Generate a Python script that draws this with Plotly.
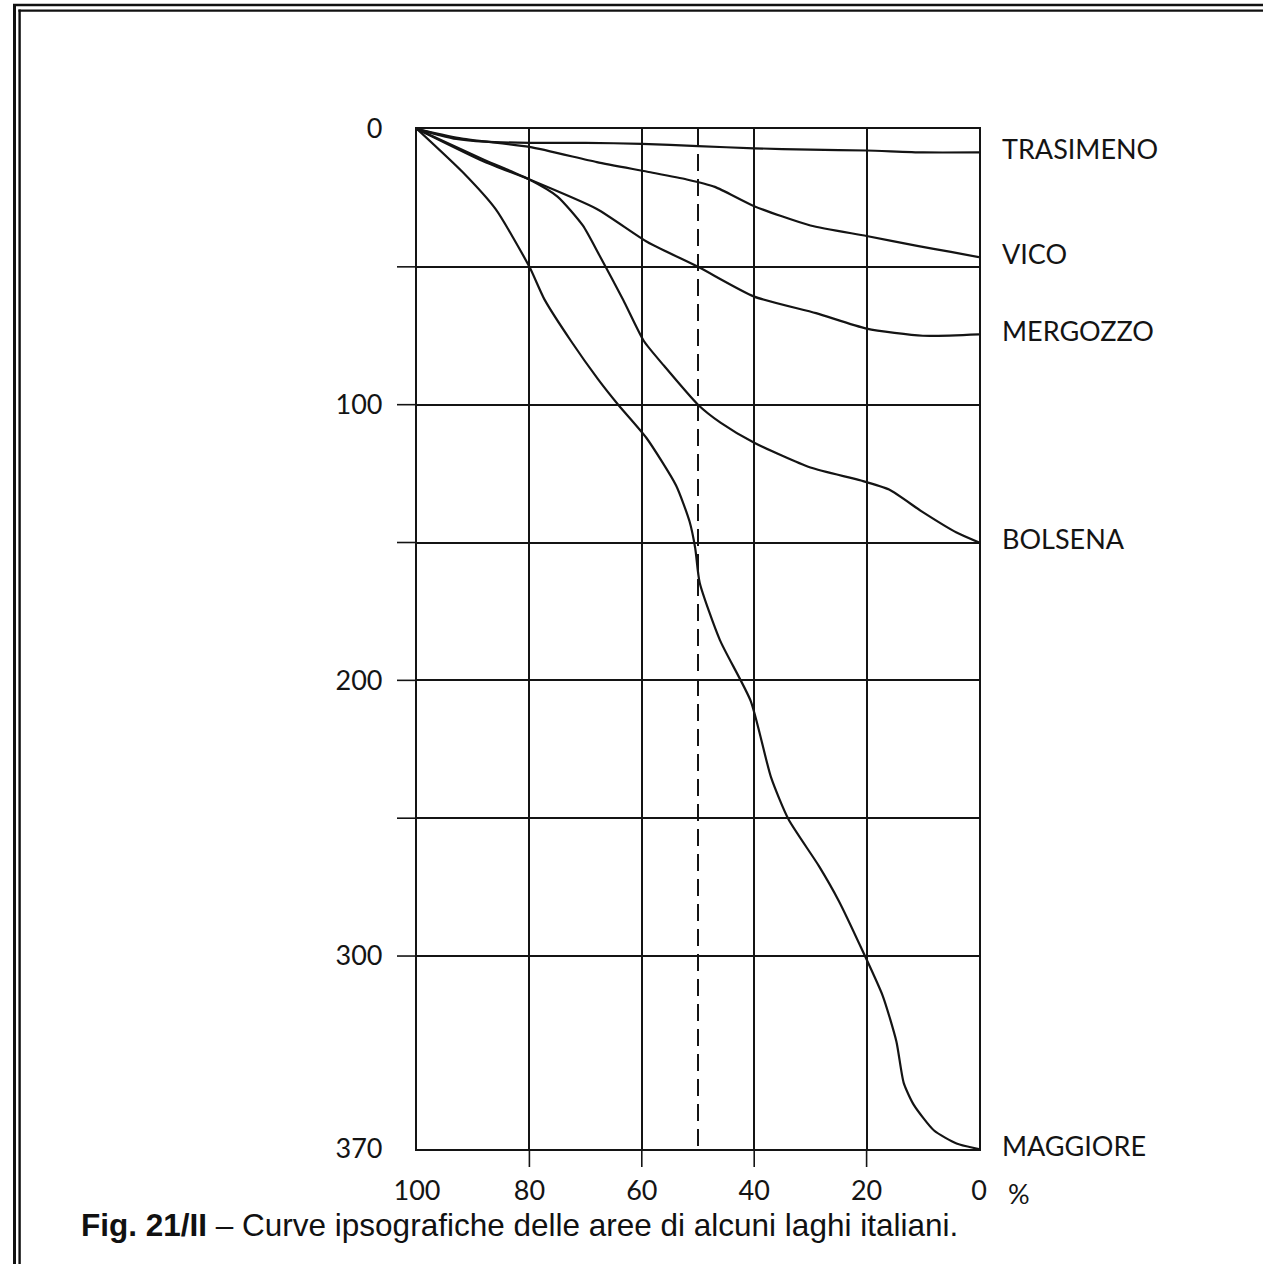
import plotly.graph_objects as go

# Hypsographic curves: % of lake area (x, reversed) vs depth in metres (y, downward)
trasimeno_x = [100, 96, 93, 88, 80, 70, 60, 50, 40, 30, 20, 10, 0]
trasimeno_y = [0, 2.2, 3.6, 4.6, 5.0, 5.0, 5.4, 6.2, 7.0, 7.5, 7.8, 8.5, 8.5]

vico_x = [100, 92, 80, 68, 59, 52, 47, 40, 30, 20, 11, 5, 0]
vico_y = [0, 3.5, 6.5, 12, 15.5, 18.3, 21, 28, 35, 38.8, 42.4, 44.6, 46.5]

mergozzo_x = [100, 88, 80, 68, 59, 50, 40, 29, 20, 10, 0]
mergozzo_y = [0, 11.9, 18.3, 29, 41, 50, 60.8, 66.8, 72.4, 75, 74.5]

bolsena_x = [100, 88, 80, 75, 70.5, 67.5, 63.3, 59.6, 56, 50, 46, 40, 30, 21, 16, 10, 4, 0]
bolsena_y = [0, 11.2, 18.3, 24.5, 35, 46, 62, 77, 86, 100, 106.5, 113.8, 122.8,
             127.5, 130.8, 139, 146.4, 150]

maggiore_x = [100, 91.8, 86, 80, 77.3, 72.6, 67.8, 64.2, 59.2, 53.9, 51.5, 50.5, 49.7,
              46.1, 40.6, 37.0, 33.9, 28.5, 24.9, 20.7, 17.1, 14.7, 13.4, 11.6, 8.0, 4, 0]
maggiore_y = [0, 15.8, 29.1, 50, 61.9, 76.9, 90.7, 100, 112, 129.3, 142.4, 152, 164.6,
              185.4, 207.6, 235.2, 250.4, 267.3, 280.2, 298.2, 314.6, 331, 346, 354,
              363.3, 368, 370]

lake_names = ["TRASIMENO", "VICO", "MERGOZZO", "BOLSENA", "MAGGIORE"]

x_tickvals = [100, 80, 60, 40, 20, 0]
x_ticktext = ["100", "80", "60", "40", "20", "0"]
y_tickvals = [0, 50, 100, 150, 200, 250, 300, 370]
y_ticktext = ["0", "", "100", "", "200", "", "300", "370"]
half_area_pct = 50
max_depth = 370

caption = ("<b>Fig. 21/II</b> \u2013 Curve ipsografiche delle aree di alcuni "
           "laghi italiani.")

W, H = 1263, 1264
L, R, T, B = 417, 979, 129, 1149
INK = "#141414"
LABEL_FONT = "Lato"


def px_x(px):
    return (px - L) / (R - L)


def px_y(py):
    return (B - py) / (B - T)


series = [
    (trasimeno_x, trasimeno_y),
    (vico_x, vico_y),
    (mergozzo_x, mergozzo_y),
    (bolsena_x, bolsena_y),
    (maggiore_x, maggiore_y),
]

fig = go.Figure()
for (xs, ys), name in zip(series, lake_names):
    fig.add_trace(go.Scatter(
        x=xs, y=ys, mode="lines", name=name,
        line=dict(color=INK, width=2.2, shape="spline", smoothing=0.6),
        hoverinfo="skip",
    ))

# dashed reference line at half of the surface area
fig.add_trace(go.Scatter(
    x=[half_area_pct, half_area_pct], y=[0, max_depth], mode="lines",
    line=dict(color=INK, width=2, dash="17px,8px"), hoverinfo="skip",
))

shapes = []
# short extensions of the inner grid lines outside the frame
for v in x_tickvals[1:-1]:
    shapes.append(dict(type="line", xref="x", yref="paper", x0=v, x1=v,
                       y0=0, y1=-18 / (B - T), line=dict(color=INK, width=1.6)))
for v in y_tickvals[1:-1]:
    shapes.append(dict(type="line", xref="paper", yref="y", x0=0, x1=-20 / (R - L),
                       y0=v, y1=v, line=dict(color=INK, width=1.6)))

# double page border (left and top)
shapes += [
    dict(type="line", xref="paper", yref="paper", x0=px_x(14.5), x1=px_x(14.5),
         y0=px_y(4), y1=px_y(H + 2), line=dict(color="#111", width=3)),
    dict(type="line", xref="paper", yref="paper", x0=px_x(19.6), x1=px_x(19.6),
         y0=px_y(9.5), y1=px_y(H + 2), line=dict(color="#111", width=2.4)),
    dict(type="line", xref="paper", yref="paper", x0=px_x(13), x1=px_x(W + 2),
         y0=px_y(5), y1=px_y(5), line=dict(color="#111", width=2.6)),
    dict(type="line", xref="paper", yref="paper", x0=px_x(18.4), x1=px_x(W + 2),
         y0=px_y(10.6), y1=px_y(10.6), line=dict(color="#111", width=2.4)),
]

annotations = []
for (xs, ys), name in zip(series, lake_names):
    annotations.append(dict(
        x=1, xref="paper", y=ys[-1], yref="y", xanchor="left", yanchor="middle",
        xshift=21, yshift=4, text=name, showarrow=False,
        font=dict(family=LABEL_FONT, size=27, color=INK),
    ))
annotations.append(dict(
    x=px_x(1006), xref="paper", y=px_y(1193), yref="paper", xanchor="left",
    yanchor="middle", text="%", showarrow=False,
    font=dict(family=LABEL_FONT, size=27, color=INK),
))
annotations.append(dict(
    x=px_x(79), xref="paper", y=px_y(1225), yref="paper", xanchor="left",
    yanchor="middle", text=caption, showarrow=False,
    font=dict(family="Liberation Sans", size=31.5, color="#111"),
))

axis_common = dict(
    showline=True, linecolor=INK, linewidth=2.2, mirror=True,
    showgrid=True, gridcolor=INK, gridwidth=1.6, zeroline=False,
    ticks="", tickfont=dict(family=LABEL_FONT, size=27, color=INK),
    tickmode="array",
)

fig.update_xaxes(range=[100, 0], tickvals=x_tickvals, ticktext=x_ticktext,
                 ticklabelstandoff=16, **axis_common)
fig.update_yaxes(range=[max_depth, 0], tickvals=y_tickvals, ticktext=y_ticktext,
                 ticklabelstandoff=27, **axis_common)

fig.update_layout(
    width=W, height=H, autosize=False,
    margin=dict(l=L, r=W - R, t=T, b=H - B, pad=0),
    paper_bgcolor="white", plot_bgcolor="white",
    showlegend=False, shapes=shapes, annotations=annotations,
)

fig.write_html("out.html", config={"displayModeBar": False})
